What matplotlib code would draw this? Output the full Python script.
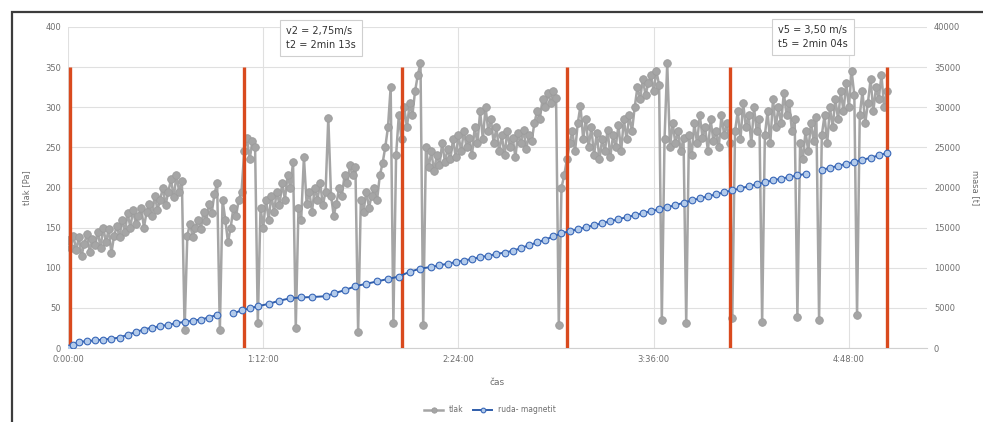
import numpy as np
import matplotlib
matplotlib.use("Agg")
import matplotlib.pyplot as plt
from matplotlib.patches import Rectangle

# ---------------- data ----------------
# pressure samples, one per minute from 0:00:00
tlak = [
    135, 125, 140, 122, 138, 115, 130, 142, 120, 136,
    128, 145, 125, 150, 132, 148, 118, 140, 152, 138,
    160, 145, 168, 150, 172, 155, 165, 175, 150, 170,
    180, 165, 190, 172, 185, 200, 178, 195, 210, 188,
    215, 195, 208, 22, 140, 155, 138, 150, 160, 148,
    170, 158, 180, 168, 192, 205, 22, 185, 160, 132,
    150, 175, 165, 185, 195, 245, 262, 235, 258, 250,
    31, 175, 150, 185, 160, 190, 170, 195, 178, 205,
    185, 215, 200, 232, 25, 175, 160, 238, 180, 195,
    170, 200, 185, 205, 178, 195, 287, 190, 165, 180,
    200, 190, 215, 205, 228, 215, 225, 20, 185, 170,
    195, 175, 190, 200, 185, 215, 230, 250, 275, 325,
    31, 240, 290, 260, 300, 275, 305, 290, 320, 340,
    355, 29, 250, 225, 245, 220, 240, 228, 255, 232,
    248, 235, 260, 238, 265, 245, 270, 250, 262, 240,
    275, 255, 295, 260, 300, 270, 285, 255, 275, 245,
    265, 240, 270, 250, 262, 238, 268, 255, 272, 248,
    265, 258, 280, 295, 285, 310, 300, 318, 305, 320,
    312, 29, 200, 215, 235, 255, 270, 245, 280, 302,
    260, 285, 250, 275, 240, 268, 235, 260, 245, 272,
    238, 265, 250, 278, 245, 285, 260, 290, 270, 300,
    325, 310, 335, 315, 330, 340, 320, 345, 328, 35,
    260, 355, 250, 280, 255, 270, 245, 262, 31, 265,
    240, 280, 255, 290, 262, 275, 245, 285, 258, 270,
    250, 290, 265, 280, 255, 38, 270, 295, 260, 305,
    275, 290, 255, 300, 270, 285, 32, 265, 295, 255,
    310, 275, 300, 280, 318, 290, 305, 270, 285, 39,
    255, 235, 270, 245, 280, 258, 288, 35, 265, 290,
    255, 300, 275, 310, 285, 320, 295, 330, 300, 345,
    315, 41, 290, 320, 280, 305, 335, 295, 325, 310,
    340, 300, 320,
]
tlak_min = np.arange(len(tlak))

ruda_min = [0, 2, 4, 7, 10, 13, 16, 19, 22, 25, 28, 31, 34, 37, 40, 43, 46, 49, 52, 55, 58,
            61, 64, 67, 70, 74, 78, 82, 86, 90, 95, 98, 102, 106, 110, 114, 118, 122, 126,
            130, 134, 137, 140, 143, 146, 149, 152, 155, 158, 161, 164, 167, 170, 173, 176,
            179, 182, 185, 188, 191, 194, 197, 200, 203, 206, 209, 212, 215, 218, 221, 224,
            227, 230, 233, 236, 239, 242, 245, 248, 251, 254, 257, 260, 263, 266, 269, 272,
            275, 278, 281, 284, 287, 290, 293, 296, 299, 302]
ruda = [0, 400, 750, 850, 950, 1050, 1150, 1300, 1650, 2000, 2300, 2550, 2700, 2900, 3100,
        3250, 3400, 3550, 3800, 4150, np.nan,
        4300, 4700, 4950, 5200, 5500, 5900, 6200, 6300, 6350, 6450, 6800, 7200, 7700, 8000,
        8300, 8600, 8900, 9500, 9900, 10100, 10300, 10500, 10700, 10900, 11100, 11300,
        11500, 11700, 11900, 12100, 12450, 12800, 13150, 13500, 13900, 14300, 14550,
        14800, 15050, 15300, 15550, 15800, 16050, 16300, 16550, 16800, 17050, 17300,
        17550, 17800, 18100, 18400, 18650, 18900, 19150, 19400, 19650, 19900, 20150,
        20400, 20650, 20900, 21100, 21300, 21500, 21700, np.nan, 22200, 22450, 22700,
        22950, 23200, 23450, 23700, 24000, 24300]

red_min = [0.7, 65, 123, 184, 244, 302]
red_top = 350

xtick_min = [0, 72, 144, 216, 288]
xtick_lbl = ["0:00:00", "1:12:00", "2:24:00", "3:36:00", "4:48:00"]
ytick_left = list(range(0, 401, 50))
ytick_right = list(range(0, 40001, 5000))

note1 = "v2 = 2,75m/s\nt2 = 2min 13s"
note2 = "v5 = 3,50 m/s\nt5 = 2min 04s"

# ---------------- figure ----------------
W, H = 983, 422
fig = plt.figure(figsize=(W / 100, H / 100), dpi=100)
fig.patch.set_facecolor("white")

ax = fig.add_axes([68 / W, 1 - 348 / H, (927 - 68) / W, (348 - 27) / H])
ax2 = ax.twinx()

tick_col = "#6E6E6E"
fs = 6

ax.set_ylim(0, 400)
ax.set_xlim(0, 316.8)
ax.set_yticks(ytick_left)
ax.set_xticks(xtick_min)
ax.set_xticklabels(xtick_lbl)
ax.grid(True, color="#E0E0E0", linewidth=0.8)
ax.set_axisbelow(True)

for a in (ax, ax2):
    for s in a.spines.values():
        s.set_visible(False)
ax.spines["bottom"].set_visible(True)
ax.spines["bottom"].set_color("#D0D0D0")

ax.tick_params(axis="both", length=0, labelsize=fs, labelcolor=tick_col, pad=5)
ax2.tick_params(axis="y", length=0, labelsize=fs, labelcolor=tick_col, pad=5)

# pressure series
l1, = ax.plot(tlak_min, tlak, color="#A5A5A5", linewidth=1.8, marker="o",
              markersize=5.5, markerfacecolor="#A5A5A5", markeredgecolor="#9C9C9C",
              markeredgewidth=0.6, zorder=3, label="tlak")

# red verticals
ax.vlines(red_min, 0, red_top, colors="#D94A1E", linewidth=2.4, zorder=5)

# mass series on right axis
ax2.set_ylim(0, 40000)
ax2.set_yticks(ytick_right)
l2, = ax2.plot(ruda_min, ruda, color="#2F5DAA", linewidth=1.4, marker="o",
               markersize=4.8, markerfacecolor="#B3CBEB", markeredgecolor="#3A68B8",
               markeredgewidth=0.8, zorder=4, label="ruda- magnetit")
ax2.set_zorder(ax.get_zorder() + 1)
ax2.patch.set_visible(False)

ax.set_xlabel("čas", fontsize=fs + 0.5, color=tick_col, labelpad=10)
ax.set_ylabel("tlak [Pa]", fontsize=fs, color=tick_col, labelpad=10)
ax2.set_ylabel("masa [t]", fontsize=fs, color=tick_col, rotation=270, labelpad=14)

fig.legend(handles=[l1, l2], labels=["tlak", "ruda- magnetit"], loc="center",
           bbox_to_anchor=(490 / W, 1 - 410 / H), ncol=2, frameon=False,
           fontsize=fs - 0.5, labelcolor=tick_col, handlelength=2.5, columnspacing=1.2,
           markerscale=0.7)

# annotation boxes
bbox = dict(boxstyle="square,pad=0.6", facecolor="white", edgecolor="#CFCFCF", linewidth=0.8)
fig.text(286 / W, 1 - 38 / H, note1, fontsize=7, color="#333333", va="center", ha="left",
         linespacing=1.6, bbox=bbox)
fig.text(778 / W, 1 - 37 / H, note2, fontsize=7, color="#333333", va="center", ha="left",
         linespacing=1.6, bbox=bbox)

# outer frame (cut off at right and bottom)
fig.patches.append(Rectangle((12 / W, -0.2), 1.2, (422 - 12) / H + 0.2,
                             transform=fig.transFigure, fill=False,
                             edgecolor="#3C3C3C", linewidth=1.6))

fig.savefig("out.png", dpi=100)
